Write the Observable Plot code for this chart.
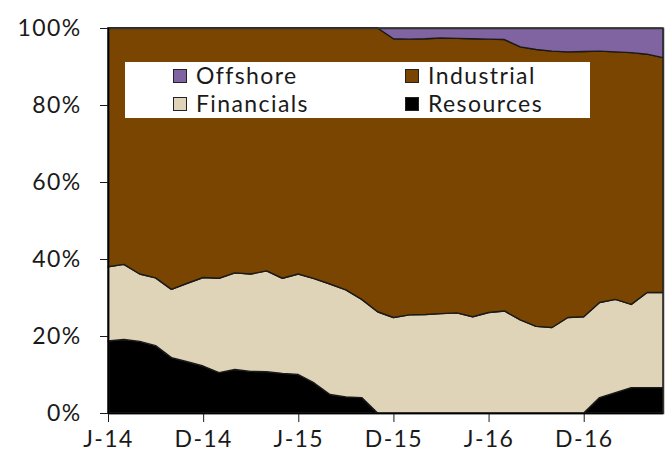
<!DOCTYPE html>
<html>
<head>
<meta charset="utf-8">
<script src="https://cdn.jsdelivr.net/npm/d3@7"></script>
<script src="https://cdn.jsdelivr.net/npm/@observablehq/plot@0.6"></script>
<style>
  html, body { margin: 0; padding: 0; background: #fff; }
  #wrap { position: relative; width: 669px; height: 466px; font-family: Lato, "Open Sans", sans-serif; }
  #legend { position: absolute; left: 125px; top: 62px; width: 465px; height: 56px; background: #fff; }
  .item { position: absolute; display: flex; align-items: center; font-size: 23px; letter-spacing: 1.4px; color: #1a1a1a; line-height: 1; white-space: nowrap; }
  .sw { width: 12px; height: 12px; border: 1.5px solid #222; margin-right: 9px; }
  svg text { letter-spacing: 1.4px; }
</style>
</head>
<body>
<div id="wrap"><div id="legend"></div></div>
<script>
const months = ["Jun-14","Jul-14","Aug-14","Sep-14","Oct-14","Nov-14","Dec-14","Jan-15","Feb-15","Mar-15","Apr-15","May-15",
  "Jun-15","Jul-15","Aug-15","Sep-15","Oct-15","Nov-15","Dec-15","Jan-16","Feb-16","Mar-16","Apr-16","May-16",
  "Jun-16","Jul-16","Aug-16","Sep-16","Oct-16","Nov-16","Dec-16","Jan-17","Feb-17","Mar-17","Apr-17","May-17"];

const resources = [18.7,19.1,18.6,17.5,14.4,13.3,12.2,10.5,11.3,10.8,10.7,10.3,10.0,7.8,4.8,4.2,4.0,
  0,0,0,0,0,0,0,0,0,0,0,0,0,0,4.0,5.3,6.6,6.6,6.6];
const financials = [19.3,19.5,17.5,17.6,17.7,20.4,23.0,24.5,25.1,25.3,26.2,24.7,26.1,27.1,28.7,27.8,25.5,
  26.3,24.8,25.5,25.6,25.8,26.0,25.0,26.1,26.5,24.2,22.5,22.2,24.8,25.0,24.7,24.2,21.6,24.7,24.7];
const industrial = [62.0,61.4,63.9,64.9,67.9,66.3,64.8,65.0,63.6,63.9,63.1,65.0,63.9,65.1,66.5,68.0,70.5,
  73.7,72.4,71.6,71.6,71.6,71.3,72.2,71.0,70.5,70.9,71.9,71.8,69.0,68.9,65.3,64.3,65.4,61.9,61.0];
const offshore = [0,0,0,0,0,0,0,0,0,0,0,0,0,0,0,0,0,
  0,2.8,2.9,2.8,2.6,2.7,2.8,2.9,3.0,4.9,5.6,6.0,6.2,6.1,6.0,6.2,6.4,6.8,7.7];

const seriesNames = ["Resources","Financials","Industrial","Offshore"];
const seriesColors = ["#000000","#dfd3b8","#7a4500","#8064a2"];
const seriesValues = [resources, financials, industrial, offshore];

const xTickIndex = [0, 6, 12, 18, 24, 30];
const xTickLabels = ["J-14","D-14","J-15","D-15","J-16","D-16"];
const yTicks = [0, 20, 40, 60, 80, 100];

const rows = [];
seriesNames.forEach((name, s) => {
  months.forEach((m, i) => rows.push({i, month: m, sector: name, value: seriesValues[s][i]}));
});

const chart = Plot.plot({
  width: 669,
  height: 466,
  marginLeft: 108,
  marginRight: 6,
  marginTop: 28,
  marginBottom: 53,
  style: {fontFamily: "Lato, 'Open Sans', sans-serif", fontSize: "23px", color: "#1a1a1a", background: "#fff"},
  x: {domain: [0, months.length - 1], ticks: xTickIndex, tickFormat: d => xTickLabels[xTickIndex.indexOf(d)], tickSize: 9, tickPadding: 8, label: null},
  y: {domain: [0, 100], ticks: yTicks, tickFormat: d => d + "%", tickSize: 8, tickPadding: 19, label: null},
  color: {domain: seriesNames, range: seriesColors},
  marks: [
    Plot.areaY(rows, {x: "i", y: "value", z: "sector", fill: "sector", order: seriesNames, stroke: "#1a1a1a", strokeWidth: 1.4, strokeLinejoin: "round"}),
    Plot.frame({stroke: "#333", strokeWidth: 1.5}),
    Plot.ruleX([0], {stroke: "#000", strokeWidth: 1.5}),
    Plot.ruleY([0], {stroke: "#000", strokeWidth: 1.5})
  ]
});
document.getElementById("wrap").prepend(chart);

// legend (2 x 2 inside the plot area)
const legendOrder = ["Offshore","Industrial","Financials","Resources"];
const legendPos = [[48, 2], [280, 2], [48, 30], [280, 30]];
const legend = document.getElementById("legend");
legendOrder.forEach((name, k) => {
  const it = document.createElement("div");
  it.className = "item";
  it.style.left = legendPos[k][0] + "px";
  it.style.top = legendPos[k][1] + "px";
  const sw = document.createElement("div");
  sw.className = "sw";
  sw.style.background = seriesColors[seriesNames.indexOf(name)];
  const t = document.createElement("span");
  t.textContent = name;
  it.append(sw, t);
  legend.append(it);
});
</script>
</body>
</html>
